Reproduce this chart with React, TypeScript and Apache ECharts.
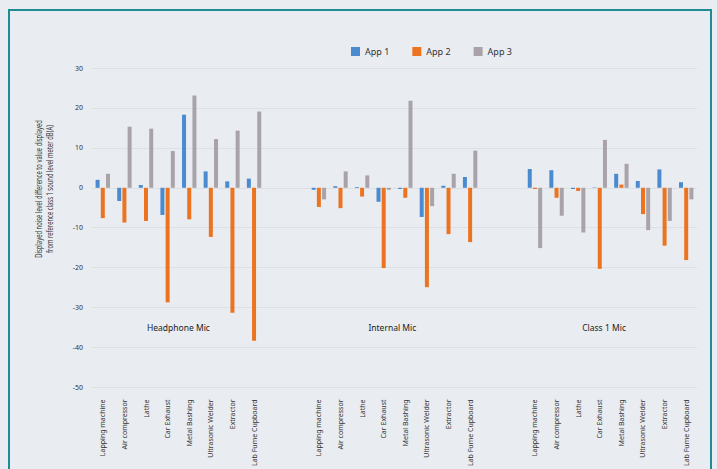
import React, { useEffect, useRef } from "react";
import * as echarts from "echarts";

const machines = [
  "Lapping machine",
  "Air compressor",
  "Lathe",
  "Car Exhaust",
  "Metal Bashing",
  "Ultrasonic Welder",
  "Extractor",
  "Lab Fume Cupboard",
];
const groups = ["Headphone Mic", "Internal Mic", "Class 1 Mic"];
const seriesNames = ["App 1", "App 2", "App 3"];
const yTicks = [-50, -40, -30, -20, -10, 0, 10, 20, 30];
const yTitle =
  "Displayed noise level difference to value displayed\nfrom reference class 1 sound level meter dB(A)";

// values per group (Headphone, Internal, Class 1)
const app1Headphone = [2, -3.3, 0.7, -6.8, 18.3, 4.1, 1.6, 2.3];
const app1Internal = [-0.5, 0.4, 0.2, -3.5, -0.3, -7.3, 0.5, 2.7];
const app1Class1 = [4.7, 4.4, -0.3, 0.1, 3.5, 1.7, 4.6, 1.4];

const app2Headphone = [-7.6, -8.7, -8.3, -28.7, -7.9, -12.3, -31.3, -38.3];
const app2Internal = [-4.8, -5.1, -2.2, -20.1, -2.5, -24.9, -11.6, -13.6];
const app2Class1 = [-0.3, -2.5, -0.8, -20.3, 0.8, -6.6, -14.5, -18.1];

const app3Headphone = [3.5, 15.3, 14.8, 9.2, 23.1, 12.2, 14.3, 19.1];
const app3Internal = [-2.9, 4.1, 3.1, -0.5, 21.8, -4.6, 3.5, 9.3];
const app3Class1 = [-15.1, -7.0, -11.2, 12.0, 6.0, -10.6, -8.3, -2.9];

// category position (in slot units) where each group caption is centred
const groupLabelPos = [3.5, 13.4, 23.2];
const groupLabelValue = -35;

const colors = ["#4a8bd0", "#ec7420", "#a9a3a9"];
const BLANKS = 2;

function buildCategories(): string[] {
  const cats: string[] = [];
  groups.forEach((_, gi) => {
    machines.forEach((m) => cats.push(m));
    if (gi < groups.length - 1) for (let b = 0; b < BLANKS; b++) cats.push("");
  });
  return cats;
}

function buildSeries(parts: number[][]): (number | null)[] {
  const out: (number | null)[] = [];
  parts.forEach((p, gi) => {
    p.forEach((v) => out.push(v));
    if (gi < parts.length - 1) for (let b = 0; b < BLANKS; b++) out.push(null);
  });
  return out;
}

const FONT = "Noto Sans";

export default function App() {
  const ref = useRef<HTMLDivElement>(null);
  useEffect(() => {
    if (!ref.current) return;
    const chart = echarts.init(ref.current, undefined, { renderer: "svg" });
    const categories = buildCategories();
    const seriesData = [
      buildSeries([app1Headphone, app1Internal, app1Class1]),
      buildSeries([app2Headphone, app2Internal, app2Class1]),
      buildSeries([app3Headphone, app3Internal, app3Class1]),
    ];
    chart.setOption({
      animation: false,
      backgroundColor: "#e9ecf0",
      textStyle: { fontFamily: FONT },
      legend: {
        data: seriesNames,
        left: 346,
        top: 42,
        itemWidth: 9,
        itemHeight: 9,
        itemGap: 23,
        icon: "rect",
        textStyle: { fontSize: 9, color: "#333", fontFamily: FONT },
      },
      grid: { left: 92, right: 20, top: 68, bottom: 81 },
      xAxis: {
        type: "category",
        data: categories,
        axisLine: { show: false, onZero: false },
        axisTick: { show: false },
        axisLabel: {
          interval: 0,
          rotate: 90,
          fontSize: 7,
          color: "#333",
          margin: 12,
          fontFamily: FONT,
        },
        splitLine: { show: false },
      },
      yAxis: {
        type: "value",
        min: yTicks[0],
        max: yTicks[yTicks.length - 1],
        interval: 10,
        axisLine: { show: false },
        axisTick: { show: false },
        axisLabel: { fontSize: 7, color: "#333", margin: 9, fontFamily: FONT },
        splitLine: { lineStyle: { color: "#dcdfe4", width: 1 } },
      },
      series: seriesNames.map((name, i) => ({
        name,
        type: "bar",
        data: seriesData[i],
        barWidth: 4,
        barGap: "30%",
        itemStyle: { color: colors[i] },
      })),
    });

    const pix = (idx: number, v: number) => {
      const i0 = Math.floor(idx);
      const f = idx - i0;
      const a = chart.convertToPixel({ xAxisIndex: 0, yAxisIndex: 0 }, [i0, v]) as number[];
      const b = chart.convertToPixel({ xAxisIndex: 0, yAxisIndex: 0 }, [i0 + 1, v]) as number[];
      return [a[0] + f * (b[0] - a[0]), a[1]];
    };

    chart.setOption({
      graphic: [
        {
          type: "rect",
          shape: { x: 9, y: 10, width: 702, height: 470 },
          style: { fill: "none", stroke: "#1f8b95", lineWidth: 2 },
          silent: true,
        },
        {
          type: "text",
          x: 44,
          y: 189,
          rotation: Math.PI / 2,
          scaleX: 0.69,
          style: {
            text: yTitle,
            fontSize: 8.5,
            lineHeight: 12,
            fill: "#333",
            fontFamily: FONT,
            textAlign: "center",
            textVerticalAlign: "middle",
          },
        },
        ...groups.map((g, gi) => {
          const p = pix(groupLabelPos[gi], groupLabelValue);
          return {
            type: "text",
            x: p[0],
            y: p[1],
            style: {
              text: g,
              fontSize: 8.5,
              fill: "#222",
              fontFamily: FONT,
              textAlign: "center",
              textVerticalAlign: "middle",
            },
          };
        }),
      ],
    });

    return () => chart.dispose();
  }, []);
  return (
    <div
      ref={ref}
      style={{ position: "fixed", left: 0, top: 0, width: 717, height: 469 }}
    />
  );
}
